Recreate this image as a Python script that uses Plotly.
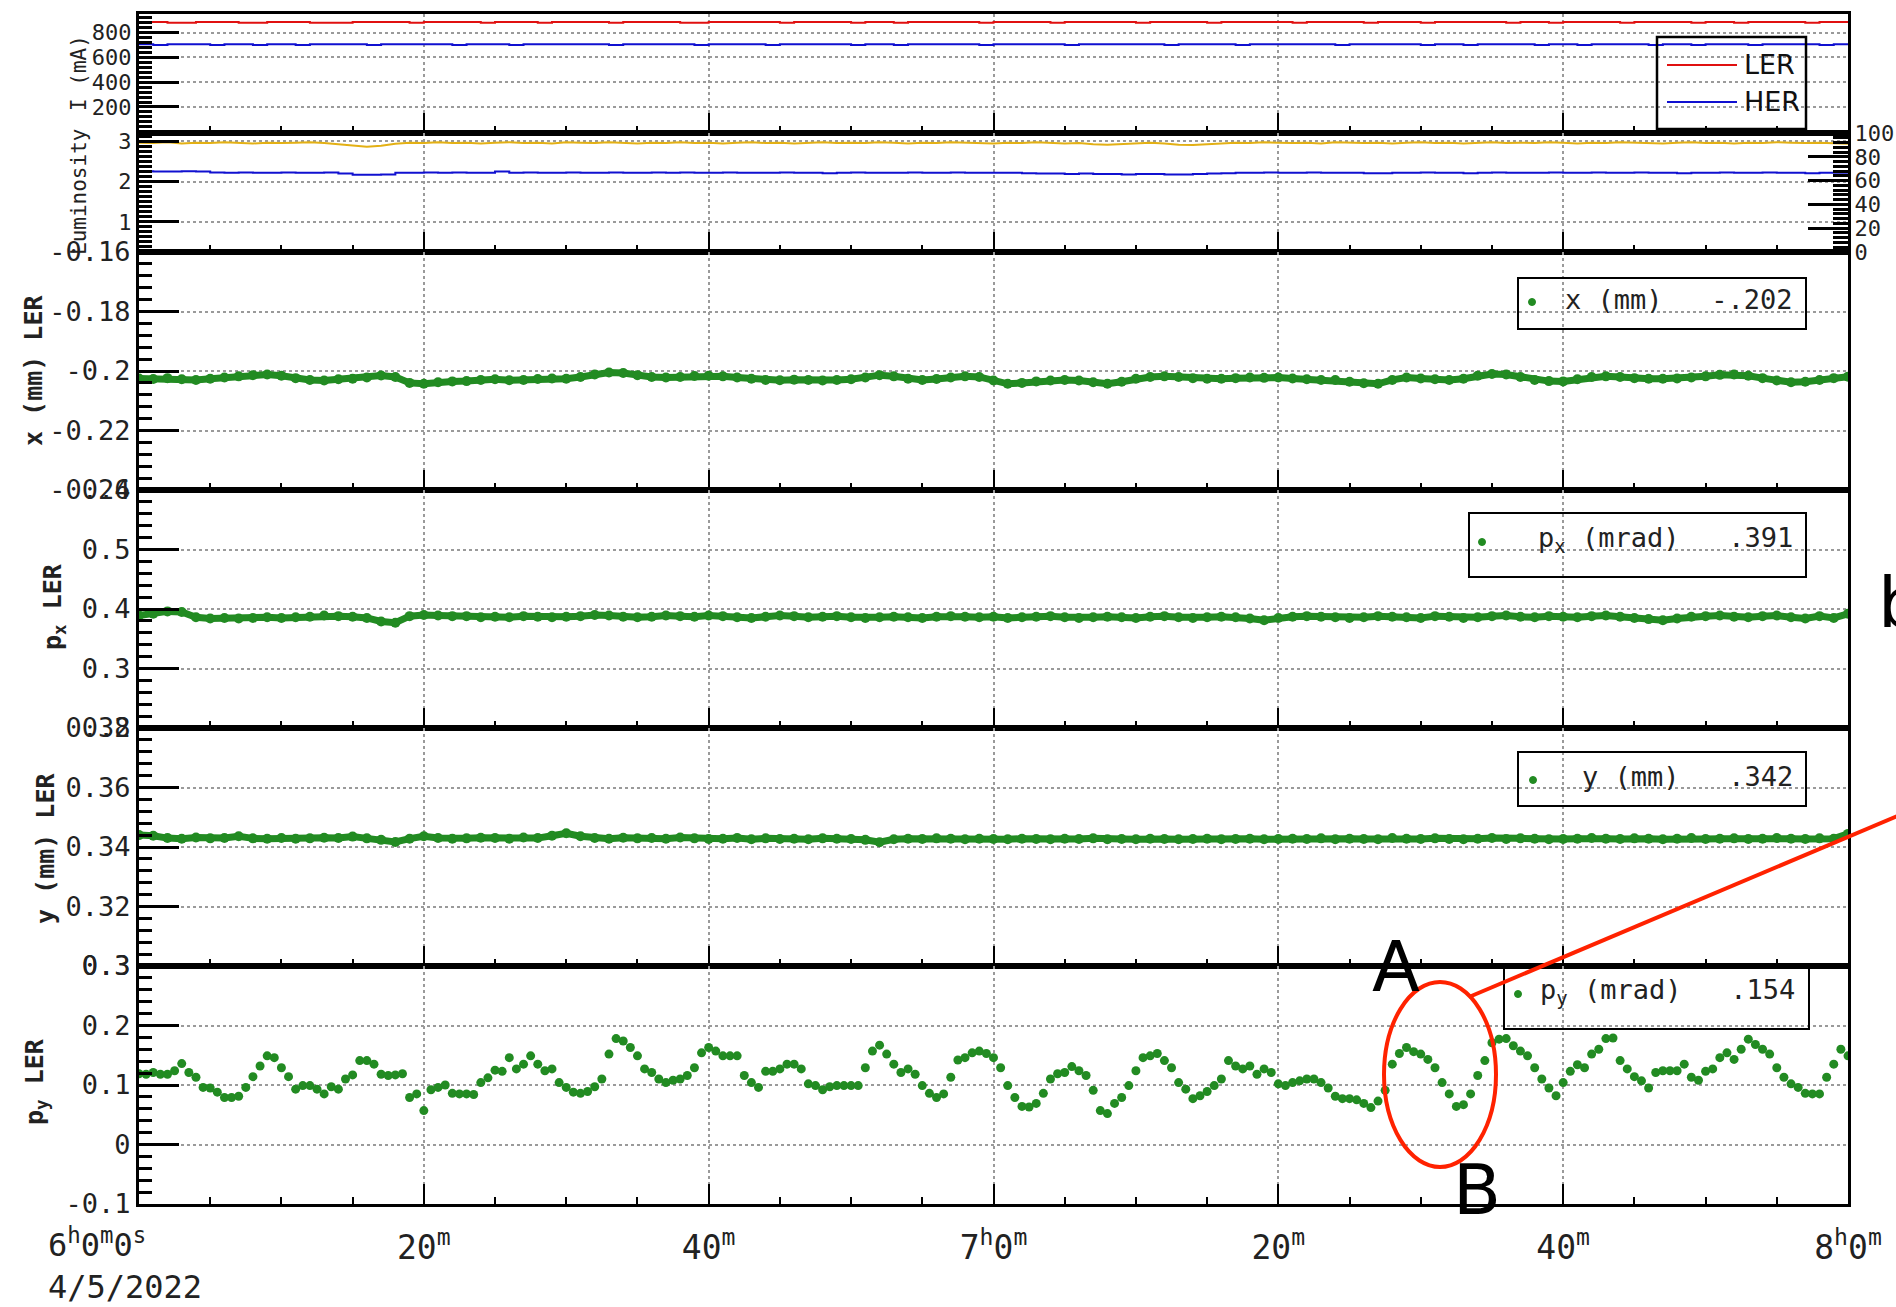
import pandas as pd
import plotly.graph_objects as go

# ---------------------------------------------------------------- data
T0 = "2022-04-05 06:00:00"
T1 = "2022-04-05 08:00:00"

minute_times = pd.date_range(T0, T1, freq="1min")        # 121 samples
half_minute_times = pd.date_range(T0, T1, freq="30s")    # 241 samples

ler_current = [
    885, 885, 880, 880, 885, 885, 885, 880, 880, 885, 885,
    885, 880, 880, 880, 885, 885, 885, 885, 880, 885,
    885, 885, 885, 880, 885, 885, 885, 880, 885, 885,
    885, 885, 880, 885, 885, 885, 885, 880, 880, 885,
    885, 885, 885, 885, 880, 885, 885, 885, 885, 880,
    885, 885, 880, 885, 885, 885, 885, 885, 880, 885,
    885, 885, 885, 880, 885, 885, 885, 885, 885, 880,
    885, 885, 885, 885, 880, 885, 885, 885, 885, 885,
    880, 885, 885, 885, 885, 880, 885, 885, 885, 880,
    885, 885, 885, 885, 885, 880, 885, 885, 880, 885,
    885, 885, 885, 880, 885, 885, 885, 885, 880, 885,
    885, 880, 885, 885, 885, 885, 880, 885, 885, 885,
]
her_current = [
    705, 700, 705, 705, 705, 700, 705, 705, 700, 705, 705,
    700, 705, 705, 705, 705, 700, 705, 705, 705, 705,
    705, 700, 705, 705, 705, 700, 705, 705, 705, 705,
    705, 705, 700, 705, 705, 705, 705, 705, 700, 705,
    705, 705, 705, 700, 705, 705, 705, 705, 705, 700,
    705, 705, 700, 705, 705, 705, 705, 705, 700, 705,
    705, 705, 705, 705, 700, 705, 705, 705, 705, 705,
    705, 700, 705, 705, 705, 705, 700, 705, 705, 705,
    705, 705, 705, 700, 705, 705, 705, 705, 705, 700,
    705, 705, 700, 705, 705, 705, 705, 700, 705, 705,
    700, 705, 705, 705, 705, 700, 705, 705, 700, 705,
    705, 705, 700, 705, 705, 705, 705, 700, 705, 705,
]
lum_gold = [
    2.97, 2.96, 2.98, 2.95, 2.97, 2.96, 2.98, 2.97, 2.95, 2.97, 2.96,
    2.97, 2.98, 2.96, 2.93, 2.90, 2.87, 2.89, 2.94, 2.97, 2.96,
    2.98, 2.96, 2.97, 2.95, 2.97, 2.98, 2.96, 2.97, 2.95, 2.98,
    2.97, 2.96, 2.98, 2.97, 2.95, 2.97, 2.96, 2.98, 2.96, 2.97,
    2.95, 2.97, 2.98, 2.96, 2.97, 2.95, 2.97, 2.98, 2.96, 2.97,
    2.96, 2.98, 2.97, 2.95, 2.97, 2.96, 2.98, 2.97, 2.96, 2.95,
    2.97, 2.96, 2.98, 2.97, 2.95, 2.96, 2.93, 2.92, 2.94, 2.96,
    2.97, 2.95, 2.92, 2.91, 2.93, 2.96, 2.97, 2.96, 2.98, 2.97,
    2.96, 2.97, 2.95, 2.98, 2.97, 2.96, 2.97, 2.95, 2.97, 2.98,
    2.96, 2.97, 2.95, 2.97, 2.98, 2.96, 2.97, 2.96, 2.98, 2.97,
    2.95, 2.97, 2.96, 2.98, 2.97, 2.96, 2.95, 2.97, 2.98, 2.96,
    2.97, 2.95, 2.97, 2.96, 2.98, 2.97, 2.96, 2.97, 2.95, 2.94,
]
lum_blue = [
    2.26, 2.25, 2.25, 2.26, 2.25, 2.23, 2.22, 2.23, 2.22, 2.22, 2.23,
    2.22, 2.22, 2.23, 2.20, 2.17, 2.17, 2.18, 2.22, 2.22, 2.23,
    2.22, 2.23, 2.22, 2.22, 2.25, 2.22, 2.23, 2.22, 2.22, 2.23,
    2.22, 2.22, 2.23, 2.22, 2.22, 2.23, 2.22, 2.23, 2.22, 2.22,
    2.23, 2.22, 2.22, 2.22, 2.23, 2.22, 2.22, 2.21, 2.22, 2.23,
    2.22, 2.22, 2.22, 2.23, 2.22, 2.22, 2.23, 2.22, 2.22, 2.22,
    2.22, 2.21, 2.20, 2.20, 2.19, 2.20, 2.19, 2.19, 2.18, 2.19,
    2.19, 2.18, 2.18, 2.19, 2.20, 2.21, 2.22, 2.22, 2.23, 2.22,
    2.22, 2.23, 2.22, 2.22, 2.22, 2.21, 2.21, 2.22, 2.22, 2.23,
    2.22, 2.22, 2.21, 2.22, 2.23, 2.22, 2.22, 2.22, 2.23, 2.22,
    2.22, 2.23, 2.22, 2.22, 2.23, 2.22, 2.22, 2.21, 2.22, 2.22,
    2.23, 2.22, 2.22, 2.23, 2.22, 2.22, 2.21, 2.22, 2.22, 2.22,
]
x_ler = [
    -0.2025, -0.2027, -0.2024, -0.2028, -0.2030, -0.2026, -0.2022, -0.2018, -0.2014, -0.2012, -0.2016,
    -0.2024, -0.2030, -0.2032, -0.2028, -0.2026, -0.2022, -0.2015, -0.2020, -0.2040, -0.2043,
    -0.2038, -0.2035, -0.2034, -0.2030, -0.2028, -0.2031, -0.2030, -0.2027, -0.2025, -0.2026,
    -0.2020, -0.2012, -0.2005, -0.2007, -0.2014, -0.2020, -0.2022, -0.2020, -0.2017, -0.2016,
    -0.2018, -0.2022, -0.2026, -0.2030, -0.2031, -0.2029, -0.2030, -0.2032, -0.2030, -0.2028,
    -0.2022, -0.2014, -0.2018, -0.2026, -0.2030, -0.2027, -0.2022, -0.2018, -0.2020, -0.2032,
    -0.2043, -0.2040, -0.2035, -0.2032, -0.2030, -0.2032, -0.2038, -0.2043, -0.2036, -0.2026,
    -0.2020, -0.2018, -0.2020, -0.2024, -0.2026, -0.2026, -0.2024, -0.2022, -0.2023, -0.2022,
    -0.2025, -0.2028, -0.2030, -0.2030, -0.2036, -0.2041, -0.2043, -0.2030, -0.2022, -0.2025,
    -0.2028, -0.2030, -0.2026, -0.2016, -0.2010, -0.2012, -0.2020, -0.2030, -0.2034, -0.2035,
    -0.2028, -0.2020, -0.2018, -0.2020, -0.2024, -0.2026, -0.2026, -0.2025, -0.2022, -0.2018,
    -0.2013, -0.2012, -0.2016, -0.2024, -0.2032, -0.2038, -0.2036, -0.2030, -0.2024, -0.2019,
]
px_ler = [
    0.389, 0.392, 0.396, 0.395, 0.386, 0.384, 0.385, 0.384, 0.385, 0.386, 0.385,
    0.386, 0.387, 0.389, 0.388, 0.387, 0.385, 0.379, 0.377, 0.388, 0.390,
    0.389, 0.388, 0.388, 0.386, 0.387, 0.386, 0.388, 0.387, 0.386, 0.387,
    0.388, 0.390, 0.389, 0.387, 0.386, 0.387, 0.389, 0.388, 0.387, 0.389,
    0.388, 0.386, 0.385, 0.387, 0.389, 0.388, 0.386, 0.387, 0.388, 0.386,
    0.385, 0.386, 0.387, 0.386, 0.385, 0.387, 0.388, 0.387, 0.386, 0.387,
    0.385, 0.386, 0.387, 0.388, 0.386, 0.385, 0.386, 0.387, 0.386, 0.385,
    0.387, 0.388, 0.386, 0.385, 0.386, 0.387, 0.386, 0.384, 0.381, 0.385,
    0.387, 0.388, 0.387, 0.386, 0.385, 0.386, 0.388, 0.387, 0.386, 0.385,
    0.388, 0.387, 0.385, 0.386, 0.388, 0.389, 0.387, 0.386, 0.388, 0.387,
    0.386, 0.388, 0.389, 0.387, 0.385, 0.383, 0.381, 0.384, 0.387, 0.388,
    0.389, 0.387, 0.386, 0.388, 0.389, 0.386, 0.384, 0.388, 0.385, 0.392,
]
y_ler = [
    0.3440, 0.3438, 0.3430, 0.3428, 0.3432, 0.3429, 0.3430, 0.3436, 0.3429, 0.3428, 0.3430,
    0.3428, 0.3429, 0.3431, 0.3430, 0.3435, 0.3429, 0.3424, 0.3417, 0.3428, 0.3436,
    0.3430, 0.3428, 0.3429, 0.3431, 0.3430, 0.3428, 0.3432, 0.3430, 0.3438, 0.3446,
    0.3436, 0.3430, 0.3428, 0.3431, 0.3429, 0.3430, 0.3428, 0.3432, 0.3429, 0.3427,
    0.3428, 0.3430, 0.3426, 0.3429, 0.3427, 0.3428, 0.3426, 0.3429, 0.3428, 0.3427,
    0.3424, 0.3416, 0.3426, 0.3428, 0.3427, 0.3429, 0.3428, 0.3426, 0.3428, 0.3427,
    0.3426, 0.3428, 0.3427, 0.3426, 0.3428, 0.3427, 0.3429, 0.3426, 0.3427, 0.3426,
    0.3428, 0.3427, 0.3426, 0.3427, 0.3428, 0.3426, 0.3427, 0.3428, 0.3426, 0.3427,
    0.3428, 0.3427, 0.3429, 0.3426, 0.3428, 0.3427, 0.3426, 0.3430, 0.3428, 0.3427,
    0.3429, 0.3427, 0.3426, 0.3428, 0.3430, 0.3427, 0.3429, 0.3428, 0.3426, 0.3427,
    0.3428, 0.3430, 0.3428, 0.3427, 0.3429, 0.3428, 0.3426, 0.3428, 0.3430, 0.3427,
    0.3428, 0.3429, 0.3427, 0.3428, 0.3430, 0.3428, 0.3427, 0.3429, 0.3428, 0.3444,
]
py_ler = [
    0.119, 0.118, 0.121, 0.118, 0.118, 0.124, 0.136, 0.121, 0.113, 0.096,
    0.095, 0.088, 0.079, 0.079, 0.081, 0.096, 0.114, 0.132, 0.149, 0.146,
    0.129, 0.114, 0.093, 0.099, 0.099, 0.093, 0.085, 0.097, 0.093, 0.110,
    0.117, 0.141, 0.141, 0.135, 0.118, 0.116, 0.117, 0.119, 0.079, 0.085,
    0.057, 0.092, 0.096, 0.100, 0.086, 0.085, 0.085, 0.084, 0.104, 0.112,
    0.125, 0.123, 0.146, 0.127, 0.135, 0.149, 0.135, 0.124, 0.127, 0.104,
    0.096, 0.088, 0.086, 0.089, 0.097, 0.110, 0.152, 0.178, 0.174, 0.163,
    0.149, 0.127, 0.121, 0.110, 0.104, 0.108, 0.110, 0.116, 0.129, 0.154,
    0.163, 0.157, 0.149, 0.149, 0.149, 0.116, 0.104, 0.096, 0.123, 0.123,
    0.127, 0.135, 0.135, 0.127, 0.102, 0.099, 0.092, 0.097, 0.099, 0.099,
    0.099, 0.099, 0.129, 0.157, 0.167, 0.152, 0.135, 0.121, 0.127, 0.118,
    0.099, 0.086, 0.079, 0.085, 0.113, 0.142, 0.146, 0.154, 0.157, 0.153,
    0.146, 0.129, 0.099, 0.079, 0.064, 0.063, 0.069, 0.086, 0.110, 0.119,
    0.121, 0.131, 0.124, 0.116, 0.091, 0.057, 0.052, 0.069, 0.079, 0.099,
    0.124, 0.146, 0.149, 0.153, 0.141, 0.129, 0.104, 0.093, 0.077, 0.082,
    0.089, 0.099, 0.110, 0.141, 0.132, 0.127, 0.132, 0.118, 0.127, 0.121,
    0.102, 0.099, 0.104, 0.107, 0.110, 0.110, 0.104, 0.095, 0.081, 0.077,
    0.077, 0.075, 0.069, 0.062, 0.073, 0.091, 0.135, 0.153, 0.163, 0.156,
    0.152, 0.143, 0.129, 0.104, 0.085, 0.064, 0.067, 0.085, 0.116, 0.141,
    0.171, 0.177, 0.178, 0.166, 0.157, 0.149, 0.129, 0.110, 0.095, 0.082,
    0.104, 0.123, 0.134, 0.129, 0.152, 0.160, 0.178, 0.179, 0.141, 0.127,
    0.114, 0.107, 0.095, 0.121, 0.124, 0.124, 0.124, 0.135, 0.113, 0.108,
    0.123, 0.127, 0.146, 0.154, 0.143, 0.160, 0.177, 0.168, 0.160, 0.152,
    0.129, 0.113, 0.102, 0.096, 0.086, 0.085, 0.085, 0.113, 0.135, 0.160,
    0.149,
]

x_tick_times = pd.date_range(T0, T1, freq="20min")
# first tick is labelled separately (start time + date, left aligned under the axis)
x_tick_text = [
    "",
    "20<sup>m</sup>", "40<sup>m</sup>",
    "7<sup>h</sup>0<sup>m</sup>",
    "20<sup>m</sup>", "40<sup>m</sup>",
    "8<sup>h</sup>0<sup>m</sup>",
]
start_label = "6<sup>h</sup>0<sup>m</sup>0<sup>s</sup>"
date_label = "4/5/2022"

current_ticks = [200, 400, 600, 800]
lum_ticks = [1, 2, 3]
lum_right_ticks = [0, 20, 40, 60, 80, 100]
x_ticks = [-0.24, -0.22, -0.2, -0.18, -0.16]
x_tick_labels = ["-0.24", "-0.22", "-0.2", "-0.18", "-0.16"]
px_ticks = [0.2, 0.3, 0.4, 0.5, 0.6]
y_ticks = [0.3, 0.32, 0.34, 0.36, 0.38]
py_ticks = [-0.1, 0, 0.1, 0.2, 0.3]

legend_values = {"x": "-.202", "px": ".391", "y": ".342", "py": ".154"}

# ---------------------------------------------------------------- layout helpers
W, H = 1896, 1307
ML, MR, MT, MB = 139, 48, 14, 103
PW, PH = W - ML - MR, H - MT - MB


def fx(px):
    """page x pixel -> paper coordinate"""
    return (px - ML) / PW


def fy(py):
    """page y pixel -> paper coordinate"""
    return (H - MB - py) / PH


GREEN = "rgb(34,139,34)"
MONO = "DejaVu Sans Mono"
SANS = "DejaVu Sans"
GRID = dict(showgrid=True, gridcolor="#9a9a9a", griddash="dot", gridwidth=1.5)

domains = [(0.9, 1.0), (0.8, 0.9), (0.6, 0.8), (0.4, 0.6), (0.2, 0.4), (0.0, 0.2)]

fig = go.Figure()

# ---------------------------------------------------------------- traces
fig.add_trace(go.Scatter(x=minute_times, y=ler_current, mode="lines", line=dict(color="#e01010", width=2, shape="hv"),
                         xaxis="x", yaxis="y"))
fig.add_trace(go.Scatter(x=minute_times, y=her_current, mode="lines", line=dict(color="#1010d0", width=2, shape="hv"),
                         xaxis="x", yaxis="y"))
fig.add_trace(go.Scatter(x=minute_times, y=lum_gold, mode="lines", line=dict(color="#e3b014", width=2),
                         xaxis="x2", yaxis="y2"))
fig.add_trace(go.Scatter(x=minute_times, y=lum_blue, mode="lines", line=dict(color="#1010d0", width=2, shape="hv"),
                         xaxis="x2", yaxis="y2"))
# empty trace that registers the right-hand luminosity scale
fig.add_trace(go.Scatter(x=[minute_times[0]], y=[None], mode="lines", xaxis="x2", yaxis="y7",
                         hoverinfo="skip"))
for series, k in ((x_ler, 3), (px_ler, 4), (y_ler, 5)):
    fig.add_trace(go.Scatter(x=minute_times, y=series, mode="lines+markers",
                             line=dict(color=GREEN, width=7), marker=dict(color=GREEN, size=10),
                             xaxis=f"x{k}", yaxis=f"y{k}"))
fig.add_trace(go.Scatter(x=half_minute_times, y=py_ler, mode="markers",
                         marker=dict(color=GREEN, size=9), xaxis="x6", yaxis="y6"))

# ---------------------------------------------------------------- axes
layout = dict(
    width=W, height=H,
    margin=dict(l=ML, r=MR, t=MT, b=MB, pad=0, autoexpand=False),
    paper_bgcolor="white", plot_bgcolor="white",
    showlegend=False,
)

for i in range(1, 7):
    name = "xaxis" if i == 1 else f"xaxis{i}"
    ax = dict(
        domain=[0, 1], anchor="y" if i == 1 else f"y{i}", type="date",
        range=[T0, T1], tickmode="array", tickvals=list(x_tick_times), ticktext=x_tick_text,
        showticklabels=(i == 6), automargin=False,
        ticks="inside", ticklen=20, tickwidth=2, tickcolor="black",
        minor=dict(ticks="inside", ticklen=7, tickwidth=2, tickcolor="black",
                   tickmode="linear", tick0=T0, dtick=300000, showgrid=False),
        showline=True, linecolor="black", linewidth=3, mirror=True,
        tickfont=dict(family=MONO, size=33, color="#222"),
        ticklabelstandoff=12,
        zeroline=False,
        **GRID,
    )
    if i != 1:
        ax["matches"] = "x"
    layout[name] = ax


def yaxis(i, rng, vals, text, dminor, fsize):
    return dict(
        domain=list(domains[i - 1]), anchor="x" if i == 1 else f"x{i}",
        range=rng, tickmode="array", tickvals=vals, ticktext=text, automargin=False,
        ticks="inside", ticklen=40, tickwidth=3, tickcolor="black",
        minor=dict(ticks="inside", ticklen=13, tickwidth=3, tickcolor="black",
                   tickmode="linear", tick0=vals[0], dtick=dminor, showgrid=False),
        showline=True, linecolor="black", linewidth=3, mirror=True,
        tickfont=dict(family=MONO, size=fsize, color="#222"),
        zeroline=False,
        **GRID,
    )


eps = 1e-9
layout["yaxis"] = yaxis(1, [-10, 950], current_ticks, [str(v) for v in current_ticks], 40, 22)
layout["yaxis2"] = yaxis(2, [0.25, 3.21], lum_ticks, [str(v) for v in lum_ticks], 0.125, 22)
layout["yaxis3"] = yaxis(3, [-0.24 - eps, -0.16 + eps], x_ticks, x_tick_labels, 0.004, 27)
layout["yaxis4"] = yaxis(4, [0.2 - eps, 0.6 + eps], px_ticks, [f"{v:g}" for v in px_ticks], 0.02, 27)
layout["yaxis5"] = yaxis(5, [0.3 - eps, 0.38 + eps], y_ticks, [f"{v:g}" for v in y_ticks], 0.004, 27)
layout["yaxis6"] = yaxis(6, [-0.1 - eps, 0.3 + eps], py_ticks, [f"{v:g}" for v in py_ticks], 0.02, 27)
layout["yaxis7"] = dict(
    overlaying="y2", side="right", anchor="x2", range=[-eps, 100 + eps], automargin=False,
    tickmode="array", tickvals=lum_right_ticks, ticktext=[str(v) for v in lum_right_ticks],
    ticks="inside", ticklen=40, tickwidth=3, tickcolor="black",
    minor=dict(ticks="inside", ticklen=15, tickwidth=3, tickcolor="black",
               tickmode="linear", tick0=0, dtick=4, showgrid=False),
    showline=True, linecolor="black", linewidth=2,
    tickfont=dict(family=MONO, size=22, color="#222"),
    showgrid=False, zeroline=False,
)
fig.update_layout(**layout)

# ---------------------------------------------------------------- axis titles
titles = [
    ("I (mA)", 79, 73, 21, False),
    ("Luminosity", 79, 192, 21, False),
    ("x (mm) LER", 33, 371, 25, True),
    ("p<sub>x</sub> LER", 54, 607, 25, True),
    ("y (mm) LER", 46, 849, 25, True),
    ("p<sub>y</sub> LER", 36, 1082, 25, True),
]
annotations = []
for text, xp, yp, size, bold in titles:
    annotations.append(dict(
        text=f"<b>{text}</b>" if bold else text, xref="paper", yref="paper",
        x=fx(xp), y=fy(yp), xanchor="center", yanchor="middle", textangle=-90,
        showarrow=False, font=dict(family=MONO, size=size, color="#222"),
    ))

# start-of-axis time label with the date beneath it
annotations.append(dict(text=start_label + "<br>" + date_label, xref="paper", yref="paper",
                        x=fx(46), y=fy(1264), xanchor="left", yanchor="middle", align="left",
                        showarrow=False, font=dict(family=MONO, size=32, color="#222")))

# ---------------------------------------------------------------- legend boxes
shapes = []


def rect(x0, y0, x1, y1, width=2):
    shapes.append(dict(type="rect", xref="paper", yref="paper",
                       x0=fx(x0), x1=fx(x1), y0=fy(y1), y1=fy(y0),
                       line=dict(color="black", width=width), fillcolor="rgba(0,0,0,0)", layer="above"))


def dot(xc, yc, r=3.5):
    shapes.append(dict(type="circle", xref="paper", yref="paper",
                       x0=fx(xc - r), x1=fx(xc + r), y0=fy(yc + r), y1=fy(yc - r),
                       line=dict(color=GREEN, width=1), fillcolor=GREEN, layer="above"))


# current legend
rect(1657, 37, 1806, 129, width=2.5)
for yy, col, lab in ((65, "#e01010", "LER"), (102, "#1010d0", "HER")):
    shapes.append(dict(type="line", xref="paper", yref="paper", x0=fx(1667), x1=fx(1737),
                       y0=fy(yy), y1=fy(yy), line=dict(color=col, width=2), layer="above"))
    annotations.append(dict(text=lab, xref="paper", yref="paper", x=fx(1742), y=fy(yy),
                            xanchor="left", yanchor="middle", showarrow=False,
                            font=dict(family=SANS, size=27, color="#111")))

# orbit legends
orbit_legends = [
    ("x (mm)\u00a0\u00a0\u00a0" + legend_values["x"], (1518, 278, 1806, 329), 1532, 302, 1795),
    ("p<sub>x</sub>\u00a0(mrad)\u00a0\u00a0\u00a0" + legend_values["px"], (1469, 513, 1806, 577), 1482, 542, 1795),
    ("y (mm)\u00a0\u00a0\u00a0" + legend_values["y"], (1518, 752, 1806, 806), 1533, 780, 1795),
    ("p<sub>y</sub>\u00a0(mrad)\u00a0\u00a0\u00a0" + legend_values["py"], (1504, 964, 1809, 1029), 1518, 994, 1797),
]
for text, box, dx, dy, tx in orbit_legends:
    rect(*box)
    dot(dx, dy)
    annotations.append(dict(text=text, xref="paper", yref="paper", x=fx(tx), y=fy(dy - 3),
                            xanchor="right", yanchor="middle", showarrow=False,
                            font=dict(family=MONO, size=27, color="#222")))

# ---------------------------------------------------------------- highlight of the A-B excursion
RED = "#ff2200"
shapes.append(dict(type="circle", xref="paper", yref="paper",
                   x0=fx(1384), x1=fx(1496), y0=fy(1167), y1=fy(982),
                   line=dict(color=RED, width=4), layer="above"))
shapes.append(dict(type="line", xref="paper", yref="paper",
                   x0=fx(1469), y0=fy(997), x1=fx(1900), y1=fy(815),
                   line=dict(color=RED, width=4), layer="above"))
for lab, xp, yp, anchor in (("A", 1396, 967, "center"), ("B", 1477, 1190, "center"), ("b", 1876, 603, "left")):
    annotations.append(dict(text=lab, xref="paper", yref="paper", x=fx(xp), y=fy(yp),
                            xanchor=anchor, yanchor="middle", showarrow=False,
                            font=dict(family=SANS, size=70, color="black")))

fig.update_layout(shapes=shapes, annotations=annotations)
fig.write_html("out.html")
